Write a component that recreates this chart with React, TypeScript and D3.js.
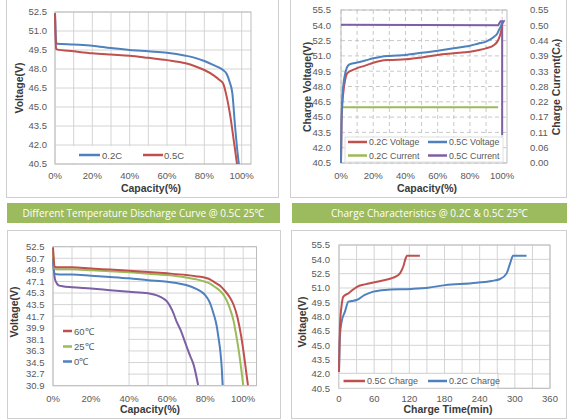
import React from "react";
import * as d3 from "d3";

const BLUE = "#4f81bd";
const RED = "#c0504d";
const GREEN = "#9bbb59";
const PURPLE = "#7d5fa5";
const BANNER = "#9cba5e";

// ---------- Panel 1: discharge 0.2C / 0.5C ----------
const p1YTicks = [40.5, 42.0, 43.5, 45.0, 46.5, 48.0, 49.5, 51.0, 52.5];
const p1XTicks = [0, 20, 40, 60, 80, 100];
const p1Blue02: [number, number][] = [[0,52.4],[0.3,51.0],[0.6,50.1],[1,50.0],[10,49.93],[20,49.84],[30,49.65],[40,49.5],[50,49.4],[60,49.29],[70,49.05],[75,48.88],[80,48.63],[85,48.3],[90,47.92],[92,47.6],[93.5,47.0],[95,46.1],[96.5,43.4],[97.5,41.8],[98.5,40.5]];
const p1Red05: [number, number][] = [[0,52.4],[0.3,50.5],[0.6,49.6],[1,49.55],[10,49.4],[20,49.24],[30,49.14],[40,49.05],[50,48.88],[60,48.7],[70,48.45],[75,48.22],[80,47.92],[85,47.5],[88,47.15],[90,46.87],[92,45.8],[94,44.2],[96,42.1],[97.5,40.5]];

// ---------- Panel 2: charge characteristics ----------
const p2YTicks = [40.5, 42.0, 43.5, 45.0, 46.5, 48.0, 49.5, 51.0, 52.5, 54.0, 55.5];
const p2RTicks = [0, 0.055, 0.11, 0.165, 0.22, 0.275, 0.33, 0.385, 0.44, 0.495, 0.55];
const p2RLabels = ["0.00","0.06","0.11","0.17","0.22","0.28","0.33","0.39","0.44","0.50","0.55"];
const p2XTicks = [0, 20, 40, 60, 80, 100];
const p2Red02V: [number, number][] = [[0,40.5],[0.3,44],[0.8,46.2],[1.5,47.5],[2.5,48.6],[3.5,49.2],[5,49.45],[7,49.6],[10,49.8],[15,50.05],[20,50.33],[25,50.53],[30,50.6],[40,50.66],[50,50.85],[60,51.09],[70,51.25],[80,51.41],[85,51.55],[90,51.74],[95,52.07],[97,52.4],[98,52.72],[99,53.2],[100,53.9]];
const p2Blue05V: [number, number][] = [[0,40.5],[0.3,44.5],[0.8,46.8],[1.5,48.2],[2.5,49.2],[3.5,49.8],[5,50.15],[7,50.25],[10,50.35],[15,50.55],[20,50.76],[25,50.92],[30,51.0],[40,51.09],[50,51.3],[60,51.51],[70,51.75],[80,52.0],[85,52.2],[90,52.4],[95,52.88],[97,53.2],[98,53.54],[99,53.85],[100,54.3]];
const p2Green02C: [number, number][] = [[0,0.2],[97.5,0.2]];
const p2Purple05C: [number, number][] = [[0,0.497],[97.5,0.495],[99,0.51],[101,0.51],[100,0.5],[100,0.10]];

// ---------- Panel 3: temperature discharge ----------
const p3YTicks = [30.9, 32.7, 34.5, 36.3, 38.1, 39.9, 41.7, 43.5, 45.3, 47.1, 48.9, 50.7, 52.5];
const p3XTicks = [0, 20, 40, 60, 80, 100];
const p3Red60: [number, number][] = [[0,52.4],[0.4,50.5],[0.8,49.4],[2,49.3],[10,49.29],[20,49.1],[30,48.95],[40,48.77],[50,48.58],[60,48.36],[70,48.1],[75,47.92],[80,47.68],[83,47.35],[85,46.96],[88,46.4],[90,45.77],[93,44.6],[95,43.44],[97,41.5],[99,38.5],[100.5,35.5],[101.5,33.2],[102.5,31.0]];
const p3Green25: [number, number][] = [[0,51.8],[0.4,50.0],[0.8,49.1],[2,49.0],[10,48.98],[20,48.85],[30,48.7],[40,48.51],[50,48.3],[60,48.1],[70,47.73],[75,47.45],[80,47.06],[83,46.7],[85,46.28],[88,45.6],[90,44.89],[92,43.7],[93,42.9],[95,40.9],[96,39.3],[97,37.6],[98,35.7],[99,33.4],[100,31.0]];
const p3Blue0: [number, number][] = [[0,50.6],[0.4,49.0],[0.8,48.3],[2,48.2],[10,48.18],[20,48.0],[30,47.8],[40,47.58],[50,47.3],[60,47.06],[65,46.85],[70,46.54],[75,46.0],[78,45.5],[80,44.99],[82,44.1],[83,43.4],[84.5,42.0],[86,40.3],[87,38.4],[88,36.2],[88.7,33.8],[89.2,31.0]];
const p3Purple: [number, number][] = [[0,50.8],[0.3,49.5],[0.6,48.4],[1,47.5],[2,46.8],[3,46.5],[5,46.35],[10,46.2],[20,46.0],[30,45.75],[40,45.5],[50,45.25],[55,44.9],[58,44.45],[60,43.95],[62,43.0],[63,42.4],[65,40.85],[67,39.6],[70,37.2],[72,35.6],[74,34.1],[76.3,31.0]];

// ---------- Panel 4: charge time ----------
const p4YTicks = [40.5, 42.0, 43.5, 45.0, 46.5, 48.0, 49.5, 51.0, 52.5, 54.0, 55.5];
const p4XTicks = [0, 60, 120, 180, 240, 300, 360];
const p4Red05: [number, number][] = [[0,42.2],[0.8,45],[1.7,47.1],[4.5,49.2],[7.4,50.1],[16,50.44],[30,51.1],[44,51.38],[61,51.6],[78.5,51.84],[92.7,52.08],[100,52.3],[104,52.53],[108,53.0],[110,53.3],[113.7,54.1],[116,54.38],[138,54.38]];
const p4Blue02: [number, number][] = [[0,42.2],[0.8,44.5],[1.7,46.08],[4.5,47.48],[10,48.5],[16,49.57],[21.6,49.64],[30,49.74],[44,50.27],[58.6,50.62],[78.5,50.8],[124,50.9],[152,51.03],[181,51.3],[226,51.5],[260,51.73],[275,51.94],[286,52.53],[292,53.58],[297,54.38],[320,54.38]];

const FONT = "'Liberation Sans', Arial, sans-serif";
const TICK = { fontFamily: FONT, fontSize: 9.5, fill: "#595959" } as const;
const TITLE = { fontFamily: FONT, fontSize: 10.5, fontWeight: 700, fill: "#3a3a3a" } as const;
const GRID = "#d4d4d4";

type Pt = [number, number];

function path(data: Pt[], x: d3.ScaleLinear<number, number>, y: d3.ScaleLinear<number, number>, curve = true) {
  const l = d3.line<Pt>().x(d => x(d[0])).y(d => y(d[1]));
  if (curve) l.curve(d3.curveMonotoneX);
  return l(data) || "";
}

function Frame({ x0, y0, x1, y1 }: { x0: number; y0: number; x1: number; y1: number }) {
  return <rect x={x0} y={y0} width={x1 - x0} height={y1 - y0} fill="#fff" stroke="#cfcfcf" strokeWidth={1} />;
}

function Panel1() {
  const x = d3.scaleLinear([0, 105], [55, 251]);
  const y = d3.scaleLinear([40.5, 52.5], [164, 12]);
  const gx = d3.range(0, 101, 10);
  return (
    <g>
      <Frame x0={6.5} y0={-1} x1={278.5} y1={197.5} />
      {p1YTicks.map(v => <line key={"h" + v} x1={x(0)} x2={x(105)} y1={y(v)} y2={y(v)} stroke={GRID} />)}
      {gx.map(v => <line key={"v" + v} x1={x(v)} x2={x(v)} y1={y(52.5)} y2={y(40.5)} stroke={GRID} />)}
      <rect x={x(0)} y={y(52.5)} width={x(105) - x(0)} height={y(40.5) - y(52.5)} fill="none" stroke="#bdbdbd" />
      <rect x={73} y={146} width={115} height={17} fill="#fff" />
      <path d={path(p1Blue02, x, y)} fill="none" stroke={BLUE} strokeWidth={2} />
      <path d={path(p1Red05, x, y)} fill="none" stroke={RED} strokeWidth={2} />
      <line x1={79} x2={100} y1={155} y2={155} stroke={BLUE} strokeWidth={2.5} />
      <text x={102} y={158.5} style={TICK}>0.2C</text>
      <line x1={143} x2={163} y1={155} y2={155} stroke={RED} strokeWidth={2.5} />
      <text x={164} y={158.5} style={TICK}>0.5C</text>
      {p1YTicks.map(v => <text key={"yl" + v} x={47} y={y(v) + 3.3} textAnchor="end" style={TICK}>{v.toFixed(1)}</text>)}
      {p1XTicks.map(v => <text key={"xl" + v} x={x(v)} y={178.5} textAnchor="middle" style={TICK}>{v + "%"}</text>)}
      <text x={151} y={192} textAnchor="middle" style={TITLE}>Capacity(%)</text>
      <text transform={`translate(23,88) rotate(-90)`} textAnchor="middle" style={TITLE}>Voltage(V)</text>
    </g>
  );
}

function Panel2() {
  const x = d3.scaleLinear([0, 103], [341, 507]);
  const yL = d3.scaleLinear([40.5, 55.5], [163, 10]);
  const yR = d3.scaleLinear([0, 0.55], [163, 10]);
  const gx = d3.range(0, 101, 10);
  return (
    <g>
      <Frame x0={290.5} y0={-1} x1={566.5} y1={197.5} />
      {p2YTicks.map(v => <line key={"h" + v} x1={x(0)} x2={x(103)} y1={yL(v)} y2={yL(v)} stroke="#c8c8c8" strokeDasharray="4,3" />)}
      {gx.map(v => <line key={"v" + v} x1={x(v)} x2={x(v)} y1={yL(55.5)} y2={yL(40.5)} stroke="#c8c8c8" strokeDasharray="4,3" />)}
      <rect x={x(0)} y={yL(55.5)} width={x(103) - x(0)} height={yL(40.5) - yL(55.5)} fill="none" stroke="#bdbdbd" />
      <rect x={345} y={137} width={158} height={25} fill="#fff" stroke="#e0e0e0" />
      <path d={path(p2Green02C, x, yR, false)} fill="none" stroke={GREEN} strokeWidth={2} />
      <path d={path(p2Purple05C, x, yR, false)} fill="none" stroke={PURPLE} strokeWidth={2} />
      <path d={path(p2Red02V, x, yL)} fill="none" stroke={RED} strokeWidth={2} />
      <path d={path(p2Blue05V, x, yL)} fill="none" stroke={BLUE} strokeWidth={2} />
      <line x1={348} x2={367} y1={142} y2={142} stroke={RED} strokeWidth={2.5} />
      <text x={369} y={145} style={{ ...TICK, fontSize: 8.8 }}>0.2C Voltage</text>
      <line x1={428} x2={447} y1={142} y2={142} stroke={BLUE} strokeWidth={2.5} />
      <text x={449} y={145} style={{ ...TICK, fontSize: 8.8 }}>0.5C Voltage</text>
      <line x1={348} x2={367} y1={155.5} y2={155.5} stroke={GREEN} strokeWidth={2.5} />
      <text x={369} y={158.5} style={{ ...TICK, fontSize: 8.8 }}>0.2C Current</text>
      <line x1={428} x2={447} y1={155.5} y2={155.5} stroke={PURPLE} strokeWidth={2.5} />
      <text x={449} y={158.5} style={{ ...TICK, fontSize: 8.8 }}>0.5C Current</text>
      {p2YTicks.map(v => <text key={"yl" + v} x={331} y={yL(v) + 3.3} textAnchor="end" style={TICK}>{v.toFixed(1)}</text>)}
      {p2RTicks.map((v, i) => <text key={"yr" + i} x={530} y={yR(v) + 3.3} style={TICK}>{p2RLabels[i]}</text>)}
      {p2XTicks.map(v => <text key={"xl" + v} x={x(v)} y={178.5} textAnchor="middle" style={TICK}>{v + "%"}</text>)}
      <text x={427} y={192} textAnchor="middle" style={TITLE}>Capacity(%)</text>
      <text transform={`translate(311,87) rotate(-90)`} textAnchor="middle" style={TITLE}>Charge Voltage(V)</text>
      <text transform={`translate(560,87) rotate(-90)`} textAnchor="middle" style={TITLE}>
        Charge Current(C<tspan fontSize={7}>A</tspan>)
      </text>
    </g>
  );
}

function Panel3() {
  const x = d3.scaleLinear([0, 107], [53, 256.5]);
  const y = d3.scaleLinear([30.9, 52.5], [385.7, 246.7]);
  const gx = d3.range(0, 101, 10);
  return (
    <g>
      <Frame x0={7.5} y0={230.5} x1={280.5} y1={418.5} />
      {p3YTicks.map(v => <line key={"h" + v} x1={x(0)} x2={x(107)} y1={y(v)} y2={y(v)} stroke={GRID} />)}
      {gx.map(v => <line key={"v" + v} x1={x(v)} x2={x(v)} y1={y(52.5)} y2={y(30.9)} stroke={GRID} />)}
      <rect x={x(0)} y={y(52.5)} width={x(107) - x(0)} height={y(30.9) - y(52.5)} fill="none" stroke="#bdbdbd" />
      <rect x={54} y={318} width={74} height={67} fill="#fff" />
      <path d={path(p3Purple, x, y)} fill="none" stroke={PURPLE} strokeWidth={2} />
      <path d={path(p3Blue0, x, y)} fill="none" stroke={BLUE} strokeWidth={2} />
      <path d={path(p3Green25, x, y)} fill="none" stroke={GREEN} strokeWidth={2} />
      <path d={path(p3Red60, x, y)} fill="none" stroke={RED} strokeWidth={2} />
      <line x1={63} x2={72} y1={331} y2={331} stroke={RED} strokeWidth={2.5} />
      <text x={74} y={334.5} style={TICK}>60℃</text>
      <line x1={63} x2={72} y1={346.5} y2={346.5} stroke={GREEN} strokeWidth={2.5} />
      <text x={74} y={350} style={TICK}>25℃</text>
      <line x1={63} x2={72} y1={361.5} y2={361.5} stroke={BLUE} strokeWidth={2.5} />
      <text x={74} y={365} style={TICK}>0℃</text>
      {p3YTicks.map(v => <text key={"yl" + v} x={44.5} y={y(v) + 3.3} textAnchor="end" style={TICK}>{v.toFixed(1)}</text>)}
      {p3XTicks.map(v => <text key={"xl" + v} x={x(v)} y={402} textAnchor="middle" style={TICK}>{v + "%"}</text>)}
      <text x={150} y={413} textAnchor="middle" style={TITLE}>Capacity(%)</text>
      <text transform={`translate(18,312) rotate(-90)`} textAnchor="middle" style={TITLE}>Voltage(V)</text>
    </g>
  );
}

function Panel4() {
  const x = d3.scaleLinear([0, 360], [339, 550]);
  const y = d3.scaleLinear([40.5, 55.5], [388.3, 245]);
  const gx = d3.range(0, 361, 30);
  return (
    <g>
      <Frame x0={291.5} y0={230.5} x1={566.5} y1={418.5} />
      {p4YTicks.map(v => <line key={"h" + v} x1={x(0)} x2={x(360)} y1={y(v)} y2={y(v)} stroke={GRID} />)}
      {gx.map(v => <line key={"v" + v} x1={x(v)} x2={x(v)} y1={y(55.5)} y2={y(40.5)} stroke={GRID} />)}
      <rect x={x(0)} y={y(55.5)} width={x(360) - x(0)} height={y(40.5) - y(55.5)} fill="none" stroke="#bdbdbd" />
      <rect x={339} y={373.3} width={159} height={15} fill="#fff" stroke="#cfcfcf" />
      <path d={path(p4Blue02, x, y)} fill="none" stroke={BLUE} strokeWidth={2} />
      <path d={path(p4Red05, x, y)} fill="none" stroke={RED} strokeWidth={2} />
      <line x1={343.5} x2={365} y1={381} y2={381} stroke={RED} strokeWidth={2.5} />
      <text x={367} y={384.3} style={{ ...TICK, fontSize: 9 }}>0.5C Charge</text>
      <line x1={428} x2={447} y1={381} y2={381} stroke={BLUE} strokeWidth={2.5} />
      <text x={449} y={384.3} style={{ ...TICK, fontSize: 9 }}>0.2C Charge</text>
      {p4YTicks.map(v => <text key={"yl" + v} x={330} y={y(v) + 3.3} textAnchor="end" style={TICK}>{v.toFixed(1)}</text>)}
      {p4XTicks.map(v => <text key={"xl" + v} x={x(v)} y={401.5} textAnchor="middle" style={TICK}>{String(v)}</text>)}
      <text x={448} y={413} textAnchor="middle" style={TITLE}>Charge Time(min)</text>
      <text transform={`translate(306,322) rotate(-90)`} textAnchor="middle" style={TITLE}>Voltage(V)</text>
    </g>
  );
}

function Banner({ x0, x1, text, len }: { x0: number; x1: number; text: string; len: number }) {
  return (
    <g>
      <rect x={x0} y={203} width={x1 - x0} height={20} fill={BANNER} />
      <text x={(x0 + x1) / 2} y={217} textAnchor="middle" textLength={len} lengthAdjust="spacingAndGlyphs"
        style={{ fontFamily: "'Open Sans', 'Noto Sans', sans-serif", fontSize: 11, fill: "#fff" }}>{text}</text>
    </g>
  );
}

export default function App() {
  return (
    <svg width={570} height={420} style={{ position: "absolute", left: 0, top: 0, background: "#fff" }}>
      <rect width={570} height={420} fill="#fff" />
      <Panel1 />
      <Panel2 />
      <Banner x0={7} x1={280} text="Different Temperature Discharge Curve @ 0.5C 25℃" len={242} />
      <Banner x0={292} x1={567} text="Charge Characteristics @ 0.2C & 0.5C 25℃" len={197} />
      <Panel3 />
      <Panel4 />
    </svg>
  );
}
